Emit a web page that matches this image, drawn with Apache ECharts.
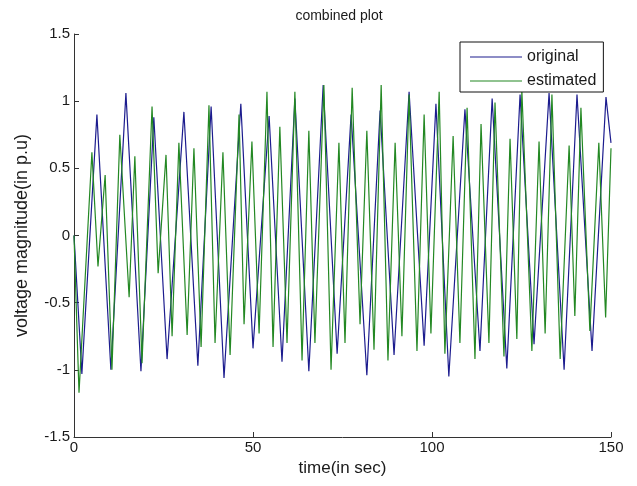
<!DOCTYPE html>
<html>
<head>
<meta charset="utf-8">
<script src="https://cdn.jsdelivr.net/npm/echarts@6/dist/echarts.min.js"></script>
<style>
html,body{margin:0;padding:0;background:#fff;}
#chart{width:637px;height:486px;}
</style>
</head>
<body>
<div id="chart"></div>
<script>
// ---- data (time in sec, value in p.u) ----
var originalTimes = [0.0, 2.2, 6.4, 10.3, 14.5, 18.7, 22.3, 26.0, 30.7, 34.6, 38.3, 41.9, 46.6, 50.0, 54.5, 58.1, 61.7, 65.6, 69.6, 73.5, 77.4, 81.8, 85.5, 89.4, 93.6, 97.8, 101.1, 104.7, 109.2, 113.4, 116.8, 120.9, 124.6, 128.5, 132.7, 136.9, 140.5, 144.7, 148.6, 150.0];
var originalValues = [0, -1.03, 0.90, -1.00, 1.06, -1.01, 0.88, -0.92, 0.92, -0.97, 0.96, -1.06, 0.98, -0.84, 0.89, -0.94, 1.02, -1.01, 1.12, -0.88, 0.90, -1.04, 0.93, -0.89, 1.07, -0.82, 0.98, -1.05, 0.94, -0.86, 1.02, -0.99, 1.05, -0.81, 1.06, -1.00, 1.05, -0.86, 1.03, 0.69];

var estimatedTimes = [0.0, 1.4, 5.0, 6.7, 8.7, 10.6, 12.8, 15.4, 17.0, 19.0, 21.8, 23.5, 25.7, 27.4, 29.3, 31.6, 33.5, 35.5, 37.7, 39.4, 41.6, 43.6, 46.1, 47.5, 49.7, 51.7, 53.9, 55.6, 57.5, 59.5, 61.7, 63.7, 65.6, 67.3, 69.8, 71.8, 74.0, 75.7, 77.7, 79.9, 81.8, 83.8, 85.8, 87.7, 89.7, 91.6, 93.6, 95.8, 97.8, 99.7, 102.0, 103.6, 105.9, 107.8, 109.8, 112.0, 113.7, 115.9, 117.6, 120.1, 121.8, 123.7, 125.1, 127.9, 129.9, 131.6, 133.5, 135.8, 138.3, 139.9, 141.6, 144.1, 146.6, 148.5, 150.0];
var estimatedValues = [0, -1.17, 0.62, -0.23, 0.45, -1.00, 0.75, -0.46, 0.59, -0.95, 0.96, -0.28, 0.60, -0.75, 0.69, -0.74, 0.65, -0.83, 0.97, -0.80, 0.62, -0.89, 0.90, -0.66, 0.70, -0.73, 1.07, -0.83, 0.81, -0.80, 1.07, -0.93, 0.78, -0.80, 1.12, -1.00, 0.69, -0.80, 1.10, -0.66, 0.78, -0.85, 1.12, -0.93, 0.69, -0.75, 1.05, -0.86, 0.90, -0.73, 1.07, -0.88, 0.74, -0.80, 0.95, -0.92, 0.83, -0.80, 0.99, -0.90, 0.72, -0.77, 1.08, -0.86, 0.70, -0.73, 1.05, -0.92, 0.67, -0.60, 0.95, -0.71, 0.69, -0.61, 0.65];

var seriesNames = ['original', 'estimated'];
var xTicks = [0, 50, 100, 150];
var yTicks = [-1.5, -1, -0.5, 0, 0.5, 1, 1.5];

function pairs(ts, vs) {
  var out = [];
  for (var i = 0; i < ts.length; i++) out.push([ts[i], vs[i]]);
  return out;
}

var FONT = 'Liberation Sans';
var TXT = '#1a1a1a';
var BLUE = '#1c1c8e';
var GREEN = '#238823';
var chart = echarts.init(document.getElementById('chart'), null, {renderer: 'canvas'});
chart.setOption({
  animation: false,
  backgroundColor: '#ffffff',
  title: {
    text: 'combined plot',
    left: 334, top: 4, textAlign: 'center',
    textStyle: {fontFamily: FONT, fontSize: 14, fontWeight: 'normal', color: TXT}
  },
  grid: {left: 74, right: 26, top: 34, bottom: 49, containLabel: false},
  legend: {
    data: seriesNames,
    orient: 'vertical',
    left: 460, top: 42,
    padding: [7, 7, 3, 10],
    itemGap: 8,
    itemWidth: 52, itemHeight: 1,
    icon: 'rect',
    backgroundColor: '#ffffff',
    borderColor: '#111', borderWidth: 1, borderRadius: 0,
    textStyle: {fontFamily: FONT, fontSize: 16, color: TXT, lineHeight: 16}
  },
  xAxis: {
    type: 'value', min: xTicks[0], max: xTicks[xTicks.length - 1], interval: 50,
    name: 'time(in sec)', nameLocation: 'middle', nameGap: 20,
    nameTextStyle: {fontFamily: FONT, fontSize: 17, color: TXT},
    axisLine: {onZero: false, lineStyle: {color: '#333', width: 1}},
    axisTick: {inside: true, length: 5, lineStyle: {color: '#333'}},
    axisLabel: {fontFamily: FONT, fontSize: 15, color: TXT, margin: 3},
    splitLine: {show: false}
  },
  yAxis: {
    type: 'value', min: yTicks[0], max: yTicks[yTicks.length - 1], interval: 0.5,
    name: 'voltage magnitude(in p.u)', nameLocation: 'middle', nameGap: 43,
    nameTextStyle: {fontFamily: FONT, fontSize: 18, color: TXT},
    axisLine: {onZero: false, lineStyle: {color: '#333', width: 1}},
    axisTick: {inside: true, length: 5, lineStyle: {color: '#333'}},
    axisLabel: {fontFamily: FONT, fontSize: 15, color: TXT, margin: 4},
    splitLine: {show: false}
  },
  series: [
    {
      name: seriesNames[0], type: 'line', symbol: 'none',
      data: pairs(originalTimes, originalValues),
      lineStyle: {color: BLUE, width: 1.2},
      itemStyle: {color: BLUE}
    },
    {
      name: seriesNames[1], type: 'line', symbol: 'none',
      data: pairs(estimatedTimes, estimatedValues),
      lineStyle: {color: GREEN, width: 1.2},
      itemStyle: {color: GREEN}
    }
  ]
});
</script>
</body>
</html>
